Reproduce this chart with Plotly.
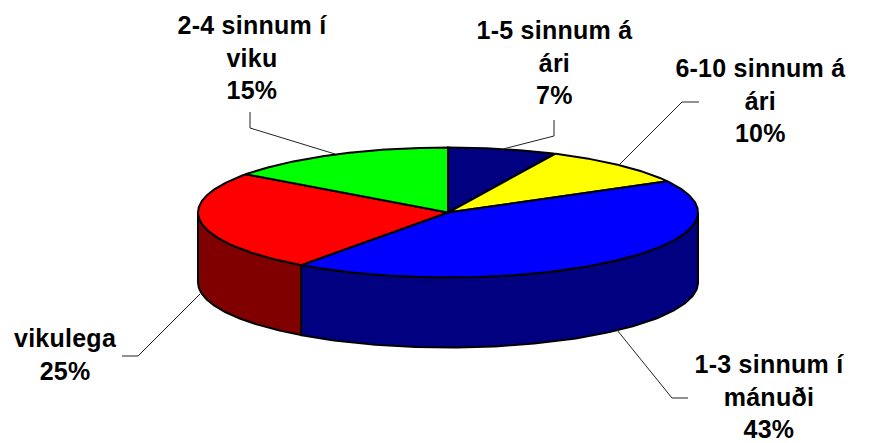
import numpy as np
import plotly.graph_objects as go

labels = ["1-5 sinnum á<br>ári<br>7%", "6-10 sinnum á<br>ári<br>10%", "1-3 sinnum í<br>mánuði<br>43%",
          "vikulega<br>25%", "2-4 sinnum í<br>viku<br>15%"]
values = [7, 10, 43, 25, 15]
top_colors = ["#000080", "#FFFF00", "#0000FF", "#FF0000", "#00FF00"]
side_colors = ["#000040", "#808000", "#000080", "#800000", "#008000"]
label_pos = [(554, 62), (760, 100), (769, 396), (65, 354), (252, 57)]
leaders = [[(554, 120), (554, 136), (503, 149)],
           [(699, 102), (682, 102), (618, 166)],
           [(688, 398), (672, 398), (617, 330)],
           [(122, 356), (138, 356), (200, 294)],
           [(250, 112), (250, 128), (335, 154)]]

CX, CY, RX, RY, DEPTH = 448, 212.5, 250, 65, 70
F = "Liberation Sans"


def pt(a):
    r = np.radians(a)
    return CX + RX * np.sin(r), CY - RY * np.cos(r)


fig = go.Figure()
edges = np.cumsum([0] + values) * 3.6
# side walls: only the part of each slice on the front half (90 to 270 degrees)
for i, v in enumerate(values):
    a0, a1 = max(edges[i], 90), min(edges[i + 1], 270)
    if a1 <= a0:
        continue
    t = np.linspace(a0, a1, 120)
    x, y = pt(t)
    fig.add_trace(go.Scatter(x=np.r_[x, x[::-1], x[0]], y=np.r_[y, y[::-1] + DEPTH, y[0]],
                             mode="lines", fill="toself", fillcolor=side_colors[i],
                             line=dict(color="black", width=2), hoverinfo="skip"))
# top faces
for i, v in enumerate(values):
    t = np.linspace(edges[i], edges[i + 1], 200)
    x, y = pt(t)
    fig.add_trace(go.Scatter(x=np.r_[CX, x, CX], y=np.r_[CY, y, CY],
                             mode="lines", fill="toself", fillcolor=top_colors[i],
                             line=dict(color="black", width=2), hoverinfo="skip"))
# leader lines
for pts in leaders:
    fig.add_trace(go.Scatter(x=[p[0] for p in pts], y=[p[1] for p in pts], mode="lines",
                             line=dict(color="#222222", width=1), hoverinfo="skip"))
for text, (lx, ly) in zip(labels, label_pos):
    fig.add_annotation(x=lx, y=ly, text=f"<b>{text}</b>", showarrow=False, align="center",
                       font=dict(family=F, size=25, color="black"))

fig.update_layout(width=877, height=443, margin=dict(l=0, r=0, t=0, b=0),
                  paper_bgcolor="white", plot_bgcolor="white", showlegend=False,
                  xaxis=dict(range=[0, 877], visible=False),
                  yaxis=dict(range=[443, 0], visible=False))
fig.write_html("out.html", config={"displayModeBar": False}, post_script=(
    "document.body.style.margin='0';"
    "document.querySelectorAll('.annotation-text').forEach(function(e){e.style.letterSpacing='0.25px';});"))
